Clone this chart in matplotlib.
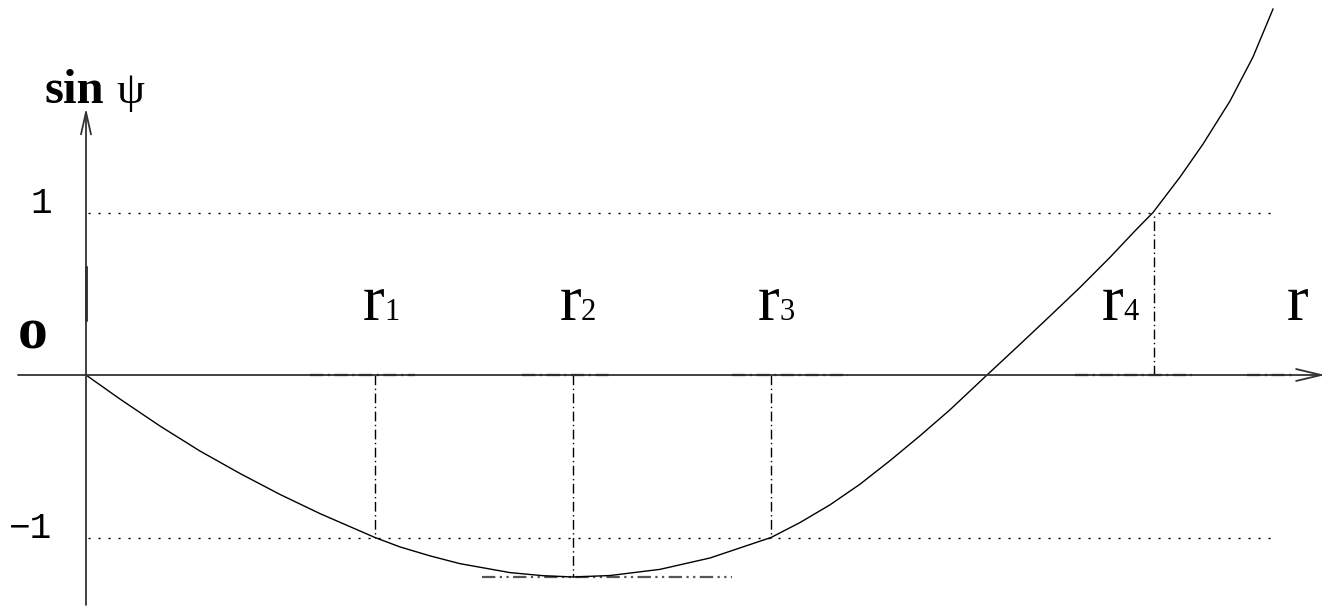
# sin(psi) versus r sketch, turning points r1..r4
import numpy as np
import matplotlib.pyplot as plt

# curve (r in arbitrary units, sin psi)
r_vals = [0.00, 0.34, 0.74, 1.14, 1.54, 1.94, 2.34, 2.89, 3.14, 3.44,
          3.74, 4.24, 4.57, 4.87, 5.24, 5.74, 6.24, 6.85, 7.14, 7.44,
          7.74, 8.04, 8.34, 8.64, 9.01, 9.34, 9.64, 9.94, 10.24, 10.49,
          10.67, 10.94, 11.17, 11.44, 11.67, 11.87]
sin_psi = [0.000, -0.148, -0.314, -0.468, -0.606, -0.735, -0.853, -1.000, -1.058, -1.113,
           -1.161, -1.216, -1.235, -1.243, -1.234, -1.196, -1.126, -1.000, -0.908, -0.799,
           -0.672, -0.527, -0.374, -0.214, 0.000, 0.189, 0.363, 0.539, 0.724, 0.887,
           1.000, 1.218, 1.421, 1.686, 1.957, 2.252]

# turning points and their sin psi values
r_marks = [2.89, 4.87, 6.85, 10.68]
r_marks_val = [-1.0, -1.243, -1.0, 1.0]
r_names = ["1", "2", "3", "4"]
levels = [1, -1]
level_labels = ["1", "\u22121"]
psi_min = -1.243

fig = plt.figure(figsize=(13.31, 6.06), dpi=100)
ax = fig.add_axes([0, 0, 1, 1])
ax.set_xlim(-0.86, 12.45)
ax.set_ylim(-1.4215, 2.3077)
ax.axis('off')

axis_col = '#333333'
# axes with arrow heads
ax.annotate('', xy=(12.39, 0), xytext=(-0.68, 0),
            arrowprops=dict(arrowstyle='->,head_length=1.8,head_width=0.43',
                            lw=1.3, color=axis_col, shrinkA=0, shrinkB=0,
                            mutation_scale=10))
ax.annotate('', xy=(0, 1.643), xytext=(0, -1.415),
            arrowprops=dict(arrowstyle='->,head_length=1.6,head_width=0.36',
                            lw=1.3, color=axis_col, shrinkA=0, shrinkB=0,
                            mutation_scale=10))
ax.plot([0, 0], [0.338, 0.665], color='k', lw=1.8)

# dotted levels at +1 and -1
for lv in levels:
    ax.plot([0.02, 11.87], [lv, lv], color='k', lw=1.0,
            linestyle=(0, (1.5, 5.7)))

# dash-dot verticals from axis to curve
for rm, v in zip(r_marks, r_marks_val):
    ax.plot([rm, rm], [0, v], color='k', lw=1.0,
            linestyle=(0, (7, 2.5, 1, 2.5)))

# short dash-dot pieces lying on the r axis
axis_bits = [(2.24, 3.29), (4.36, 5.24), (6.46, 7.62), (9.89, 11.06), (11.61, 12.09)]
for a, b in axis_bits:
    ax.plot([a, b], [0, 0], color='k', lw=1.6, linestyle=(0, (6, 2, 1, 2)))

# tangent at the minimum
ax.plot([3.96, 6.46], [psi_min, psi_min], color='#555555', lw=1.6,
        linestyle=(0, (6, 2, 1, 2, 1, 2)))

# the curve
ax.plot(r_vals, sin_psi, color='k', lw=1.0)

# labels
serif = 'Liberation Serif'
mono = ['Liberation Mono', 'DejaVu Sans Mono']
for lab, lv in zip(level_labels, levels):
    ax.text(-0.34, lv, lab, family=mono, fontsize=26, ha='right', va='baseline')

ax.text(-0.41, 1.674, "sin", family=serif, fontweight='bold', fontsize=35,
        ha='left', va='baseline')
ax.text(0.30, 1.674, "\u03c8", family=serif, fontsize=32, ha='left', va='baseline')
ax.text(-0.68, 0.166, "o", family=serif, fontweight='bold', fontsize=43,
        ha='left', va='baseline')

r_text_x = [2.77, 4.74, 6.72, 10.16]
for rx, nm in zip(r_text_x, r_names):
    ax.text(rx, 0.338, "r", family=serif, fontsize=47, ha='left', va='baseline')
    ax.text(rx + 0.21, 0.338, nm, family=serif, fontsize=22, ha='left', va='baseline')
ax.text(12.01, 0.338, "r", family=serif, fontsize=47, ha='left', va='baseline')

fig.savefig('out.png', dpi=100)
